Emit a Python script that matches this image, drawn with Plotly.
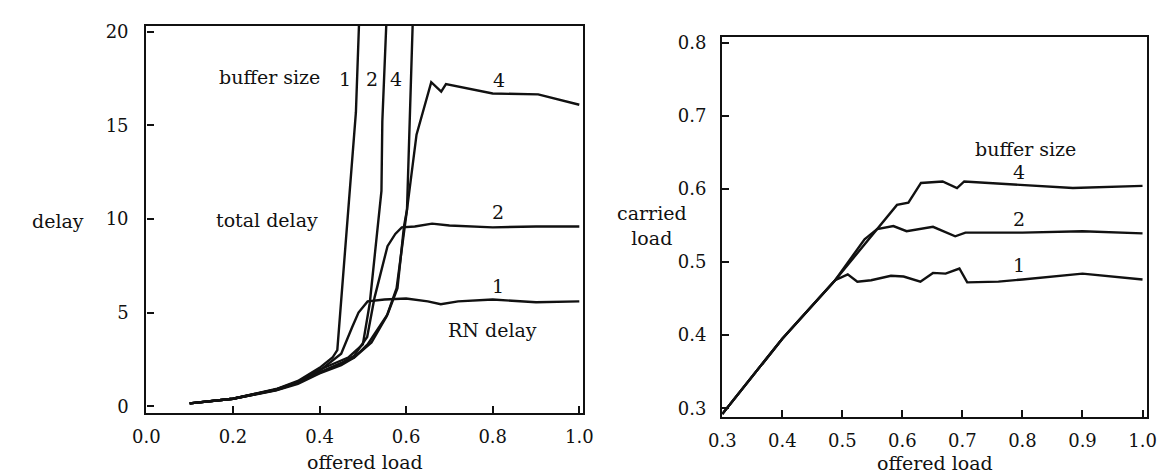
import plotly.graph_objects as go

W, H = 1165, 473

# ---------------- left chart: delay vs offered load ----------------
total1_x = [0.10, 0.20, 0.30, 0.35, 0.40, 0.43, 0.441, 0.466, 0.477, 0.484, 0.491, 0.494]
total1_y = [0.15, 0.40, 0.92, 1.35, 2.05, 2.6, 3.0, 10.5, 13.6, 15.7, 20.3, 22.0]

total2_x = [0.10, 0.20, 0.30, 0.35, 0.40, 0.45, 0.466, 0.50, 0.509, 0.516, 0.543, 0.545, 0.554, 0.556]
total2_y = [0.15, 0.40, 0.90, 1.30, 1.95, 2.45, 2.6, 3.3, 4.6, 5.5, 11.5, 15.2, 20.3, 22.0]

total4_x = [0.10, 0.20, 0.30, 0.35, 0.40, 0.45, 0.48, 0.52, 0.555, 0.578, 0.59, 0.602, 0.615, 0.618]
total4_y = [0.15, 0.40, 0.86, 1.25, 1.80, 2.30, 2.6, 3.4, 4.8, 6.3, 8.5, 10.5, 20.3, 22.0]

rn1_x = [0.10, 0.20, 0.30, 0.35, 0.40, 0.45, 0.475, 0.49, 0.511, 0.55, 0.60, 0.65, 0.68, 0.72, 0.80, 0.90, 1.00]
rn1_y = [0.15, 0.40, 0.90, 1.30, 1.90, 2.80, 4.2, 5.0, 5.6, 5.7, 5.75, 5.6, 5.45, 5.6, 5.7, 5.55, 5.6]

rn2_x = [0.10, 0.20, 0.30, 0.35, 0.40, 0.45, 0.48, 0.51, 0.527, 0.543, 0.557, 0.575, 0.59, 0.62, 0.66, 0.70, 0.80, 0.90, 1.00]
rn2_y = [0.15, 0.40, 0.88, 1.25, 1.80, 2.30, 2.7, 3.7, 5.8, 7.35, 8.55, 9.2, 9.55, 9.6, 9.75, 9.65, 9.55, 9.6, 9.6]

rn4_x = [0.10, 0.20, 0.30, 0.35, 0.40, 0.45, 0.48, 0.511, 0.557, 0.58, 0.595, 0.602, 0.624, 0.658, 0.681, 0.692, 0.80, 0.905, 1.00]
rn4_y = [0.15, 0.40, 0.85, 1.20, 1.75, 2.20, 2.6, 3.3, 4.9, 6.3, 9.6, 10.5, 14.5, 17.3, 16.8, 17.2, 16.7, 16.65, 16.1]

left_xticks = [0.0, 0.2, 0.4, 0.6, 0.8, 1.0]
left_xticktext = ["0.0", "0.2", "0.4", "0.6", "0.8", "1.0"]
left_yticks = [0, 5, 10, 15, 20]
left_yticktext = ["0", "5", "10", "15", "20"]

# ---------------- right chart: carried load vs offered load ----------------
cl1_x = [0.30, 0.40, 0.488, 0.509, 0.525, 0.548, 0.581, 0.602, 0.63, 0.651, 0.672, 0.695, 0.708, 0.76, 0.80, 0.90, 1.00]
cl1_y = [0.292, 0.395, 0.475, 0.483, 0.473, 0.475, 0.481, 0.48, 0.473, 0.485, 0.484, 0.491, 0.472, 0.473, 0.476, 0.484, 0.476]

cl2_x = [0.30, 0.40, 0.488, 0.537, 0.558, 0.585, 0.607, 0.651, 0.688, 0.705, 0.80, 0.90, 1.00]
cl2_y = [0.292, 0.395, 0.475, 0.531, 0.545, 0.549, 0.542, 0.548, 0.535, 0.54, 0.54, 0.542, 0.539]

cl4_x = [0.30, 0.40, 0.488, 0.591, 0.61, 0.631, 0.667, 0.691, 0.703, 0.83, 0.884, 1.00]
cl4_y = [0.292, 0.395, 0.475, 0.578, 0.581, 0.608, 0.61, 0.601, 0.61, 0.603, 0.601, 0.604]

right_xticks = [0.3, 0.4, 0.5, 0.6, 0.7, 0.8, 0.9, 1.0]
right_xticktext = ["0.3", "0.4", "0.5", "0.6", "0.7", "0.8", "0.9", "1.0"]
right_yticks = [0.3, 0.4, 0.5, 0.6, 0.7, 0.8]
right_yticktext = ["0.3", "0.4", "0.5", "0.6", "0.7", "0.8"]

FONT = "DejaVu Serif"
LW = 2.4
BLACK = "#111111"

fig = go.Figure()
for xs, ys in [(total1_x, total1_y), (total2_x, total2_y), (total4_x, total4_y),
               (rn1_x, rn1_y), (rn2_x, rn2_y), (rn4_x, rn4_y)]:
    fig.add_trace(go.Scatter(x=xs, y=ys, mode="lines", xaxis="x", yaxis="y",
                             line=dict(color=BLACK, width=LW), showlegend=False,
                             hoverinfo="skip"))
for xs, ys in [(cl1_x, cl1_y), (cl2_x, cl2_y), (cl4_x, cl4_y)]:
    fig.add_trace(go.Scatter(x=xs, y=ys, mode="lines", xaxis="x2", yaxis="y2",
                             line=dict(color=BLACK, width=LW), showlegend=False,
                             hoverinfo="skip"))


def px(x):
    return x / W


def py(y):
    return 1 - y / H


axis_common = dict(showline=True, linecolor=BLACK, linewidth=2.4, mirror=True,
                   showgrid=False, zeroline=False, ticks="inside", ticklen=7,
                   tickwidth=2, tickcolor=BLACK,
                   tickfont=dict(family=FONT, size=18, color=BLACK))

fig.update_layout(
    width=W, height=H,
    margin=dict(l=0, r=0, t=0, b=0),
    paper_bgcolor="white", plot_bgcolor="white",
    xaxis=dict(domain=[px(127), px(573)], range=[0, 1.009], anchor="y",
               tickvals=left_xticks, ticktext=left_xticktext,
               ticklabelstandoff=6, **axis_common),
    yaxis=dict(domain=[py(407), py(13)], range=[-0.367, 20.315], anchor="x",
               tickvals=left_yticks, ticktext=left_yticktext,
               ticklabelstandoff=12, **axis_common),
    xaxis2=dict(domain=[px(715), px(1149)], range=[0.3, 1.008], anchor="y2",
                tickvals=right_xticks, ticktext=right_xticktext,
                ticklabelstandoff=6, **axis_common),
    yaxis2=dict(domain=[py(411), py(24)], range=[0.2879, 0.8081], anchor="x2",
                tickvals=right_yticks, ticktext=right_yticktext,
                ticklabelstandoff=10, **axis_common),
)

labels = [
    ("buffer size", 253, 65), ("1", 330, 67), ("2", 357, 67), ("4", 382, 67),
    ("total delay", 250, 211), ("4", 487, 68), ("2", 486, 202), ("1", 486, 278),
    ("RN delay", 480, 322),
    ("delay", 37, 212), ("offered load", 350, 457),
    ("buffer size", 1025, 138), ("4", 1018, 162), ("2", 1018, 210), ("1", 1018, 256),
    ("carried<br>load", 643, 216), ("offered load", 932, 458),
]
for text, x, y in labels:
    fig.add_annotation(text=text, x=px(x), y=py(y), xref="paper", yref="paper",
                       showarrow=False, xanchor="center", yanchor="middle",
                       font=dict(family=FONT, size=19, color=BLACK))

fig.write_html("out.html")
